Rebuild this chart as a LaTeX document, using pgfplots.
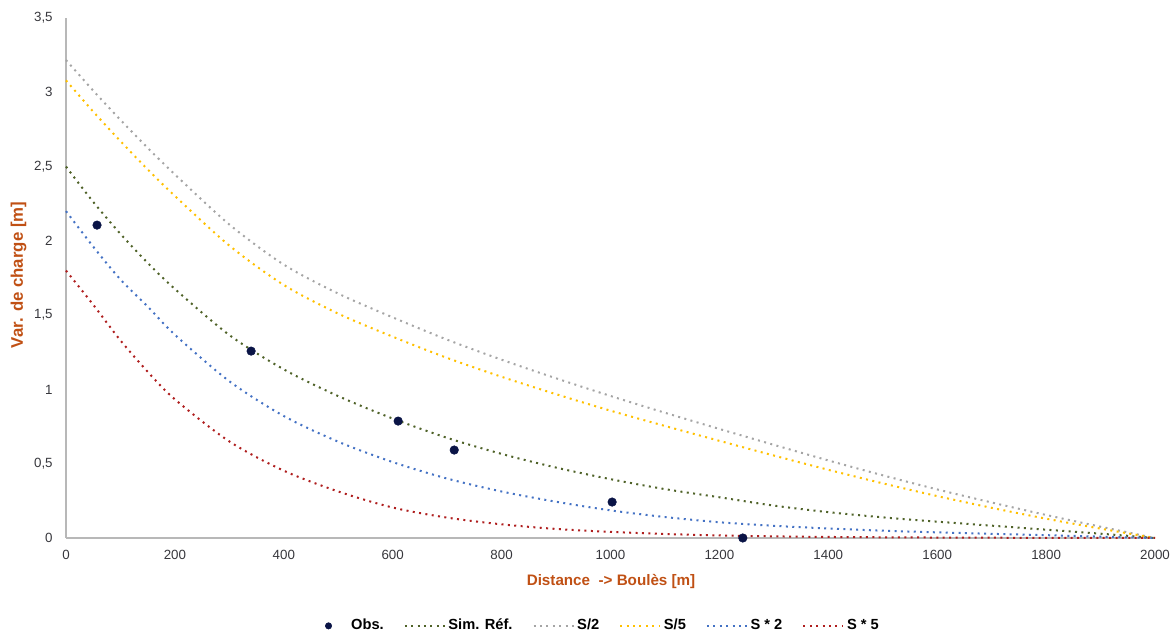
\documentclass[border=0pt]{standalone}
\usepackage{pgfplots}
\pgfplotsset{compat=1.18}
\usepackage{fontspec}
\setmainfont{Liberation Sans}
\definecolor{labc}{RGB}{192,80,20}
\definecolor{obsc}{RGB}{10,20,70}
\definecolor{simc}{RGB}{79,98,40}
\definecolor{s2c}{RGB}{165,165,165}
\definecolor{s5c}{RGB}{255,192,0}
\definecolor{sx2c}{RGB}{68,114,196}
\definecolor{sx5c}{RGB}{175,30,30}
\definecolor{tickc}{RGB}{55,55,60}
\pgfplotsset{
  dotline/.style={line width=1.5pt, dash pattern=on 1.5pt off 3.3pt, line cap=butt},
  linelegend/.style={legend image code/.code={\draw[##1] (0pt,0pt) -- (30pt,0pt);}},
  obslegend/.style={legend image code/.code={\path[draw=none,fill=none] (0pt,0pt) -- (30pt,0pt);
     \draw[##1, mark size=2.4pt] plot coordinates {(15pt,0pt)};}},
}
\begin{document}
\begin{tikzpicture}
\useasboundingbox (-49.5pt,-72pt) rectangle (831.75pt,403.5pt);
\begin{axis}[
  at={(0pt,0pt)}, anchor=south west,
  scale only axis, width=816.75pt, height=390pt,
  xmin=0, xmax=2000, ymin=0, ymax=3.5,
  clip=false,
  axis x line*=bottom, axis y line*=left,
  axis line style={draw=black!28, line width=0.8pt},
  major tick length=0pt,
  xtick={0,200,...,2000},
  ytick={0,0.5,...,3.5},
  /pgf/number format/use comma,
  /pgf/number format/1000 sep={},
  /pgf/number format/assume math mode=true,
  tick label style={font=\fontsize{10}{12}\selectfont, text=tickc},
  x tick label style={anchor=base, yshift=-16.5pt},
  y tick label style={anchor=east, xshift=-6.5pt},
  xlabel={Distance \ -> Boulès [m]},
  ylabel={Var. de charge [m]},
  label style={text=labc},
  xlabel style={font=\fontsize{11.4}{13}\selectfont\bfseries, at={(axis description cs:0.5005,-0.0846)}, anchor=center},
  ylabel style={font=\fontsize{12.6}{14}\selectfont\bfseries, at={(axis description cs:-0.0435,0.506)}, anchor=center, rotate=0},
  legend columns=6,
  legend style={at={(axis description cs:0.4858,-0.169)}, anchor=center, draw=none, fill=none,
    font=\fontsize{11}{13}\selectfont\bfseries,
    nodes={inner xsep=2pt, text depth=0.2em, text height=0.75em},
    /tikz/every even column/.append style={column sep=13pt}},
]
\addplot[only marks, mark=*, mark size=3.2pt, color=obsc, obslegend]
  coordinates {(57,2.106) (340,1.258) (610,0.787) (713,0.592) (1003,0.242) (1243,0.0)};
\addlegendentry{Obs.}
\addplot[simc, dotline, smooth, linelegend] coordinates {
(0,2.50) (50,2.262) (100,2.047) (150,1.852) (200,1.676) (300,1.366) (400,1.135) (500,0.955)
(600,0.804) (700,0.674) (800,0.566) (900,0.474) (1000,0.396) (1100,0.329) (1200,0.274)
(1300,0.218) (1400,0.174) (1500,0.139) (1600,0.110) (1700,0.083) (1800,0.056) (1900,0.029) (2000,0)};
\addlegendentry{Sim. Réf.}
\addplot[s2c, dotline, smooth, linelegend] coordinates {
(0,3.217) (50,3.011) (100,2.814) (150,2.626) (200,2.447) (300,2.110) (400,1.840) (500,1.645)
(600,1.485) (700,1.335) (800,1.200) (900,1.075) (1000,0.956) (1100,0.843) (1200,0.734)
(1300,0.627) (1400,0.522) (1500,0.422) (1600,0.327) (1700,0.239) (1800,0.155) (1900,0.076) (2000,0)};
\addlegendentry{S/2}
\addplot[s5c, dotline, smooth, linelegend] coordinates {
(0,3.08) (50,2.870) (100,2.671) (150,2.481) (200,2.302) (300,1.968) (400,1.703) (500,1.510)
(600,1.355) (700,1.212) (800,1.085) (900,0.968) (1000,0.857) (1100,0.754) (1200,0.654)
(1300,0.555) (1400,0.459) (1500,0.368) (1600,0.282) (1700,0.203) (1800,0.130) (1900,0.063) (2000,0)};
\addlegendentry{S/5}
\addplot[sx2c, dotline, smooth, linelegend] coordinates {
(0,2.20) (50,1.961) (100,1.74) (150,1.558) (200,1.368) (300,1.055) (400,0.821) (500,0.648)
(600,0.511) (700,0.400) (800,0.313) (900,0.244) (1000,0.186) (1100,0.141) (1200,0.106)
(1300,0.082) (1400,0.064) (1500,0.049) (1600,0.038) (1700,0.028) (1800,0.019) (1900,0.009) (2000,0)};
\addlegendentry{S * 2}
\addplot[sx5c, dotline, smooth, linelegend] coordinates {
(0,1.80) (50,1.57) (100,1.33) (150,1.119) (200,0.933) (300,0.650) (400,0.453) (500,0.313)
(600,0.205) (700,0.137) (800,0.092) (900,0.061) (1000,0.041) (1100,0.027) (1200,0.017)
(1300,0.011) (1400,0.007) (1600,0.003) (1800,0.001) (2000,0)};
\addlegendentry{S * 5}
\end{axis}
\end{tikzpicture}
\end{document}
